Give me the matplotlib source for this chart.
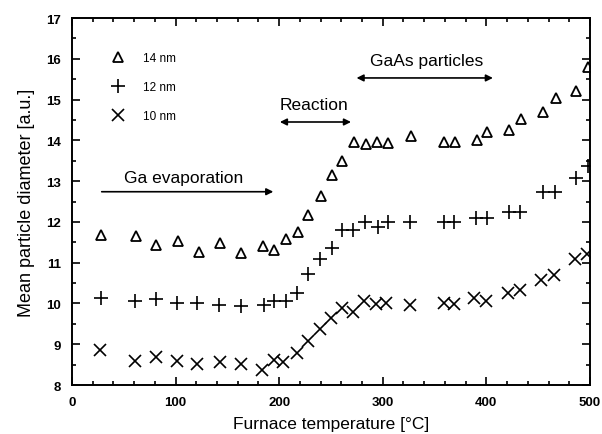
import numpy as np
import matplotlib.pyplot as plt
from matplotlib.ticker import MultipleLocator

plt.rcParams['font.family'] = ['Liberation Sans', 'DejaVu Sans']

# 14 nm particles (triangles)
t14 = [28, 62, 81, 102, 123, 143, 163, 184, 195, 207, 218, 228, 240, 251, 261, 272,
       284, 294, 305, 327, 359, 370, 391, 401, 422, 433, 455, 467, 487, 498]
d14 = [11.69, 11.66, 11.44, 11.52, 11.27, 11.49, 11.24, 11.42, 11.31, 11.58, 11.76, 12.18,
       12.63, 13.15, 13.49, 13.95, 13.91, 13.97, 13.94, 14.10, 13.97, 13.97, 14.00, 14.21,
       14.25, 14.52, 14.70, 15.03, 15.20, 15.79]

# 12 nm particles (plus)
t12 = [28, 61, 81, 101, 121, 142, 163, 185, 195, 207, 217, 228, 239, 251, 261, 271,
       283, 295, 305, 326, 359, 369, 390, 401, 422, 432, 455, 466, 487, 498]
d12 = [10.14, 10.05, 10.10, 10.01, 10.01, 9.97, 9.95, 9.97, 10.05, 10.05, 10.25, 10.73,
       11.09, 11.36, 11.80, 11.80, 11.99, 11.87, 11.99, 11.99, 12.00, 11.99, 12.09, 12.09,
       12.24, 12.25, 12.73, 12.74, 13.08, 13.38]

# 10 nm particles (x)
t10 = [27, 61, 81, 101, 121, 143, 163, 183, 195, 204, 217, 228, 239, 250, 261, 271,
       282, 293, 303, 326, 359, 369, 388, 400, 421, 432, 453, 465, 486, 497]
d10 = [8.85, 8.59, 8.68, 8.59, 8.52, 8.56, 8.52, 8.36, 8.62, 8.56, 8.79, 9.07,
       9.38, 9.64, 9.88, 9.80, 10.05, 9.99, 10.01, 9.97, 10.01, 9.99, 10.14, 10.07,
       10.25, 10.34, 10.58, 10.70, 11.08, 11.22]

fig = plt.figure(figsize=(6.02, 4.35), dpi=100)
ax = fig.add_axes([0.1196, 0.1126, 0.8604, 0.8437])

ax.plot(t14, d14, linestyle='none', marker='^', markersize=7, markerfacecolor='none',
        markeredgecolor='black', markeredgewidth=1.3, label='14 nm')
ax.plot(t12, d12, linestyle='none', marker='+', markersize=10, color='black',
        markeredgewidth=1.2, label='12 nm')
ax.plot(t10, d10, linestyle='none', marker='x', markersize=8.5, color='black',
        markeredgewidth=1.2, label='10 nm')

ax.set_xlim(0, 500)
ax.set_ylim(8, 17)
ax.xaxis.set_major_locator(MultipleLocator(100))
ax.xaxis.set_minor_locator(MultipleLocator(20))
ax.yaxis.set_major_locator(MultipleLocator(1))
ax.yaxis.set_minor_locator(MultipleLocator(0.5))
ax.tick_params(which='both', direction='in', top=True, right=True, width=1.2)
ax.tick_params(which='major', length=6, labelsize=9.5, pad=8)
ax.tick_params(which='minor', length=3)
for lab in ax.get_xticklabels() + ax.get_yticklabels():
    lab.set_fontweight('bold')
for s in ax.spines.values():
    s.set_linewidth(1.4)

ax.set_xlabel('Furnace temperature [°C]', fontsize=12.5, labelpad=6)
ax.set_ylabel('Mean particle diameter [a.u.]', fontsize=13, labelpad=8)

leg = ax.legend(loc='upper left', bbox_to_anchor=(0.077, 0.907), frameon=False,
                fontsize=8.5, handletextpad=1.6, labelspacing=1.45, handlelength=1.0,
                borderpad=0, borderaxespad=0)

# annotations
ax.annotate('', xy=(197, 12.74), xytext=(26, 12.74),
            arrowprops=dict(arrowstyle='-|>', color='black', lw=1.2, mutation_scale=10))
ax.text(108, 13.1, 'Ga evaporation', fontsize=12.5, ha='center', va='center')

ax.annotate('', xy=(272, 14.45), xytext=(198, 14.45),
            arrowprops=dict(arrowstyle='<|-|>', color='black', lw=1.2, mutation_scale=10))
ax.text(234, 14.87, 'Reaction', fontsize=12.5, ha='center', va='center')

ax.annotate('', xy=(409, 15.53), xytext=(272, 15.53),
            arrowprops=dict(arrowstyle='<|-|>', color='black', lw=1.2, mutation_scale=10))
ax.text(342, 15.97, 'GaAs particles', fontsize=12.5, ha='center', va='center')

fig.savefig('out.png', dpi=100)
